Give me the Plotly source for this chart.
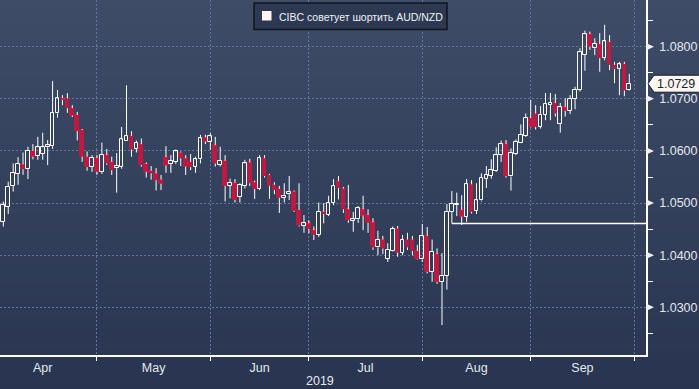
import numpy as np
import pandas as pd
import plotly.graph_objects as go

# ---------------- data ----------------
dates = pd.bdate_range("2019-04-04", periods=128)   # daily trading sessions

open_ = [1.0464, 1.0493, 1.0533, 1.0556, 1.0574, 1.0565, 1.0600, 1.0591,
         1.0595, 1.0607, 1.0609, 1.0672, 1.0701, 1.0701, 1.0682, 1.0669,
         1.0640, 1.0589, 1.0570, 1.0586, 1.0560, 1.0592, 1.0579, 1.0567,
         1.0569, 1.0620, 1.0629, 1.0604, 1.0613, 1.0575, 1.0562, 1.0557,
         1.0545, 1.0588, 1.0575, 1.0579, 1.0597, 1.0586, 1.0579, 1.0570,
         1.0584, 1.0626, 1.0618, 1.0611, 1.0574, 1.0581, 1.0533, 1.0539,
         1.0512, 1.0533, 1.0578, 1.0540, 1.0527, 1.0586, 1.0554, 1.0535,
         1.0527, 1.0510, 1.0517, 1.0522, 1.0487, 1.0456, 1.0461, 1.0448,
         1.0439, 1.0483, 1.0477, 1.0501, 1.0542, 1.0528, 1.0488, 1.0466,
         1.0469, 1.0488, 1.0477, 1.0463, 1.0415, 1.0430, 1.0393, 1.0408,
         1.0451, 1.0405, 1.0430, 1.0430, 1.0408, 1.0392, 1.0437, 1.0368,
         1.0402, 1.0349, 1.0360, 1.0483, 1.0496, 1.0487, 1.0474, 1.0536,
         1.0485, 1.0505, 1.0547, 1.0552, 1.0562, 1.0592, 1.0613, 1.0551,
         1.0595, 1.0616, 1.0629, 1.0663, 1.0672, 1.0646, 1.0669, 1.0689,
         1.0692, 1.0652, 1.0684, 1.0677, 1.0700, 1.0717, 1.0784, 1.0824,
         1.0797, 1.0805, 1.0778, 1.0809, 1.0765, 1.0757, 1.0767, 1.0716]
high = [1.0503, 1.0541, 1.0576, 1.0588, 1.0597, 1.0608, 1.0613, 1.0627,
        1.0635, 1.0621, 1.0734, 1.0717, 1.0707, 1.0711, 1.0688, 1.0675,
        1.0642, 1.0599, 1.0592, 1.0592, 1.0616, 1.0604, 1.0589, 1.0596,
        1.0646, 1.0726, 1.0638, 1.0620, 1.0624, 1.0578, 1.0571, 1.0567,
        1.0554, 1.0609, 1.0592, 1.0603, 1.0599, 1.0592, 1.0594, 1.0589,
        1.0631, 1.0631, 1.0634, 1.0627, 1.0608, 1.0592, 1.0547, 1.0546,
        1.0538, 1.0583, 1.0585, 1.0543, 1.0592, 1.0592, 1.0556, 1.0540,
        1.0533, 1.0538, 1.0552, 1.0524, 1.0538, 1.0477, 1.0467, 1.0455,
        1.0501, 1.0500, 1.0514, 1.0546, 1.0552, 1.0531, 1.0535, 1.0483,
        1.0494, 1.0514, 1.0488, 1.0471, 1.0447, 1.0437, 1.0423, 1.0455,
        1.0456, 1.0439, 1.0443, 1.0437, 1.0420, 1.0460, 1.0454, 1.0430,
        1.0413, 1.0404, 1.0498, 1.0523, 1.0520, 1.0515, 1.0546, 1.0544,
        1.0538, 1.0557, 1.0571, 1.0584, 1.0607, 1.0620, 1.0621, 1.0605,
        1.0622, 1.0651, 1.0672, 1.0698, 1.0688, 1.0686, 1.0711, 1.0711,
        1.0709, 1.0692, 1.0701, 1.0707, 1.0723, 1.0797, 1.0831, 1.0829,
        1.0816, 1.0826, 1.0842, 1.0822, 1.0771, 1.0771, 1.0771, 1.0748]
low = [1.0455, 1.0479, 1.0522, 1.0535, 1.0554, 1.0546, 1.0584, 1.0583,
       1.0583, 1.0573, 1.0604, 1.0664, 1.0688, 1.0673, 1.0665, 1.0620,
       1.0579, 1.0562, 1.0560, 1.0554, 1.0556, 1.0573, 1.0554, 1.0520,
       1.0566, 1.0619, 1.0589, 1.0597, 1.0570, 1.0549, 1.0545, 1.0524,
       1.0525, 1.0558, 1.0558, 1.0575, 1.0571, 1.0554, 1.0563, 1.0558,
       1.0576, 1.0613, 1.0602, 1.0570, 1.0570, 1.0503, 1.0509, 1.0501,
       1.0501, 1.0528, 1.0533, 1.0508, 1.0525, 1.0549, 1.0508, 1.0517,
       1.0481, 1.0501, 1.0506, 1.0483, 1.0455, 1.0443, 1.0442, 1.0429,
       1.0435, 1.0461, 1.0475, 1.0496, 1.0507, 1.0481, 1.0462, 1.0445,
       1.0462, 1.0448, 1.0443, 1.0410, 1.0400, 1.0402, 1.0387, 1.0407,
       1.0397, 1.0400, 1.0410, 1.0400, 1.0391, 1.0387, 1.0365, 1.0349,
       1.0345, 1.0266, 1.0334, 1.0461, 1.0475, 1.0458, 1.0464, 1.0480,
       1.0479, 1.0503, 1.0529, 1.0547, 1.0560, 1.0579, 1.0549, 1.0524,
       1.0592, 1.0615, 1.0627, 1.0645, 1.0641, 1.0643, 1.0659, 1.0659,
       1.0666, 1.0635, 1.0666, 1.0671, 1.0680, 1.0714, 1.0754, 1.0794,
       1.0784, 1.0752, 1.0774, 1.0755, 1.0730, 1.0707, 1.0705, 1.0715]
close = [1.0496, 1.0531, 1.0558, 1.0575, 1.0565, 1.0600, 1.0589, 1.0607,
         1.0607, 1.0611, 1.0673, 1.0701, 1.0698, 1.0682, 1.0668, 1.0638,
         1.0589, 1.0569, 1.0586, 1.0560, 1.0592, 1.0576, 1.0563, 1.0571,
         1.0622, 1.0629, 1.0603, 1.0616, 1.0573, 1.0560, 1.0557, 1.0544,
         1.0537, 1.0572, 1.0581, 1.0599, 1.0586, 1.0570, 1.0569, 1.0584,
         1.0624, 1.0618, 1.0629, 1.0576, 1.0581, 1.0533, 1.0539, 1.0506,
         1.0535, 1.0576, 1.0538, 1.0527, 1.0586, 1.0552, 1.0533, 1.0525,
         1.0510, 1.0514, 1.0522, 1.0485, 1.0457, 1.0461, 1.0450, 1.0439,
         1.0483, 1.0479, 1.0501, 1.0533, 1.0529, 1.0488, 1.0467, 1.0469,
         1.0490, 1.0476, 1.0462, 1.0415, 1.0430, 1.0413, 1.0410, 1.0451,
         1.0405, 1.0430, 1.0415, 1.0408, 1.0392, 1.0437, 1.0368, 1.0407,
         1.0349, 1.0360, 1.0483, 1.0498, 1.0498, 1.0474, 1.0536, 1.0483,
         1.0505, 1.0549, 1.0554, 1.0563, 1.0592, 1.0613, 1.0552, 1.0597,
         1.0618, 1.0631, 1.0663, 1.0646, 1.0646, 1.0669, 1.0690, 1.0692,
         1.0672, 1.0684, 1.0677, 1.0700, 1.0717, 1.0790, 1.0824, 1.0800,
         1.0805, 1.0778, 1.0810, 1.0765, 1.0757, 1.0766, 1.0716, 1.0729]

month_labels = ["Apr", "May", "Jun", "Jul", "Aug", "Sep"]
month_starts = ["2019-04-01", "2019-05-01", "2019-06-03", "2019-07-01",
                "2019-08-01", "2019-09-02", "2019-10-01"]
year_label = "2019"
y_ticks = [1.03, 1.04, 1.05, 1.06, 1.07, 1.08]
legend_text = "CIBC советует шортить AUD/NZD"
support_idx = 91          # session whose low anchors the horizontal line

# ---------------- geometry / style ----------------
W, H = 646, 355           # plot area in px
XR = [2.33, 133.39]
YR = [1.02085, 1.08896]
FONT = "Liberation Sans, Arial, sans-serif"
TXT = "#e3e8ef"
GRID = "#62789a"
RED = "#be1a41"
TOP = np.array([62, 76, 104])
BOT = np.array([41, 53, 80])

def px(x):
    return x / W

def py(y):
    return 1 - y / H

def ypaper(v):
    return (v - YR[0]) / (YR[1] - YR[0])

base0 = pd.Timestamp("2019-04-01").date()
t = np.busday_count(base0, dates.values.astype("datetime64[D]"))
bt = np.busday_count(base0, np.array(month_starts, dtype="datetime64[D]"))
mids = (bt[:-1] + bt[1:]) / 2

o = np.array(open_); h = np.array(high); l = np.array(low); c = np.array(close)
up = c >= o
body_top = np.maximum(o, c)
body_bot = np.minimum(o, c)

wx, wy = [], []
for i in range(len(t)):
    wx += [t[i], t[i], None, t[i], t[i], None]
    wy += [h[i], body_top[i], None, body_bot[i], l[i], None]

fig = go.Figure()
fig.add_trace(go.Scatter(x=wx, y=wy, mode="lines",
                         line=dict(color="white", width=1),
                         hoverinfo="skip", showlegend=False))
fig.add_trace(go.Bar(
    x=t, base=body_bot, y=body_top - body_bot, width=0.75,
    marker=dict(color=["rgba(0,0,0,0)" if u else RED for u in up],
                line=dict(color=["white" if u else RED for u in up], width=1)),
    customdata=np.stack([o, h, l, c], axis=1),
    hovertext=[d.strftime("%d %b %Y") for d in dates],
    hovertemplate="%{hovertext}<br>O %{customdata[0]:.4f} H %{customdata[1]:.4f}"
                  "<br>L %{customdata[2]:.4f} C %{customdata[3]:.4f}<extra></extra>",
    showlegend=False))

shapes = []
n = 60
for i in range(n):
    f = (i + 0.5) / n
    col = TOP + (BOT - TOP) * f
    shapes.append(dict(type="rect", xref="paper", yref="paper", layer="below",
                       x0=-0.01, x1=1.2, y0=py(389 * (i + 1) / n + 0.5), y1=py(389 * i / n - 0.5),
                       fillcolor="rgb(%d,%d,%d)" % tuple(col.round()), line=dict(width=0)))

# support line
shapes.append(dict(type="line", xref="x", yref="y", x0=t[support_idx], x1=XR[1],
                   y0=low[support_idx], y1=low[support_idx],
                   line=dict(color="white", width=1.5)))

# triangle markers of major ticks on the right axis
for v in y_ticks:
    yp = ypaper(v)
    d = 3.5 / H
    shapes.append(dict(type="path", xref="paper", yref="paper",
                       path="M %f,%f L %f,%f L %f,%f Z" % (px(646.5), yp + d, px(654), yp, px(646.5), yp - d),
                       fillcolor="#eef0f3", line=dict(width=0)))

# last price tag
lp = close[-1]
yp = ypaper(lp)
hh = 8.5 / H
shapes.append(dict(type="path", xref="paper", yref="paper",
                   path="M %f,%f L %f,%f L %f,%f L %f,%f L %f,%f Z" % (
                       px(648), yp, px(654), yp + hh, px(705), yp + hh, px(705), yp - hh, px(654), yp - hh),
                   fillcolor="#fcf7ef", line=dict(color="#151b2b", width=1)))

# legend box
shapes.append(dict(type="rect", xref="paper", yref="paper",
                   x0=px(254), x1=px(447), y0=py(29.5), y1=py(3),
                   fillcolor="#2d3953", line=dict(color="#10151f", width=1.5)))
shapes.append(dict(type="rect", xref="paper", yref="paper",
                   x0=px(262), x1=px(271.5), y0=py(20.5), y1=py(11),
                   fillcolor="#fff4ef", line=dict(width=0)))

annotations = [
    dict(text=legend_text, xref="paper", yref="paper", x=px(276.5), y=py(16.5),
         xanchor="left", yanchor="middle", showarrow=False,
         font=dict(family=FONT, size=10.5, color="#eef1f5")),
    dict(text="%.4f" % lp, xref="paper", yref="paper", x=px(655), y=yp,
         xanchor="left", yanchor="middle", showarrow=False,
         font=dict(family=FONT, size=12.5, color="#1a2236")),
    dict(text=year_label, xref="paper", yref="paper", x=px(320), y=py(381),
         xanchor="center", yanchor="middle", showarrow=False,
         font=dict(family=FONT, size=12.5, color=TXT)),
]

minor_y = [v - 0.005 for v in y_ticks] + [y_ticks[-1] + 0.005]

fig.update_layout(
    width=699, height=389,
    margin=dict(l=0, r=699 - W, t=0, b=389 - H, autoexpand=False),
    paper_bgcolor="rgb(%d,%d,%d)" % tuple(BOT),
    plot_bgcolor="rgba(0,0,0,0)",
    font=dict(family=FONT, size=12.5, color=TXT),
    showlegend=False,
    bargap=0,
    shapes=shapes,
    annotations=annotations,
    xaxis=dict(range=XR, tickmode="array", tickvals=mids, ticktext=month_labels,
               ticks="", showgrid=False, zeroline=False, fixedrange=True,
               showline=True, linecolor="white", linewidth=1.5,
               tickfont=dict(family=FONT, size=12.5, color=TXT),
               minor=dict(tickmode="array", tickvals=bt, ticks="outside", ticklen=4,
                          tickwidth=1, tickcolor="white", showgrid=True,
                          gridcolor=GRID, griddash="2px,2px", gridwidth=1)),
    yaxis=dict(range=YR, side="right", tickmode="array", tickvals=y_ticks,
               ticktext=["%.4f" % v for v in y_ticks],
               ticks="outside", ticklen=9, tickcolor="rgba(0,0,0,0)",
               showgrid=True, gridcolor=GRID, griddash="2px,2px", gridwidth=1,
               zeroline=False, showline=True, linecolor="white", linewidth=1.5,
               fixedrange=True,
               tickfont=dict(family=FONT, size=12.5, color=TXT),
               minor=dict(tickmode="array", tickvals=minor_y, ticks="outside",
                          ticklen=5, tickwidth=1, tickcolor="white", showgrid=False)),
)

fig.write_html("out.html", config={"displayModeBar": False},
               post_script="document.body.style.margin='0';document.body.style.overflow='hidden';")
